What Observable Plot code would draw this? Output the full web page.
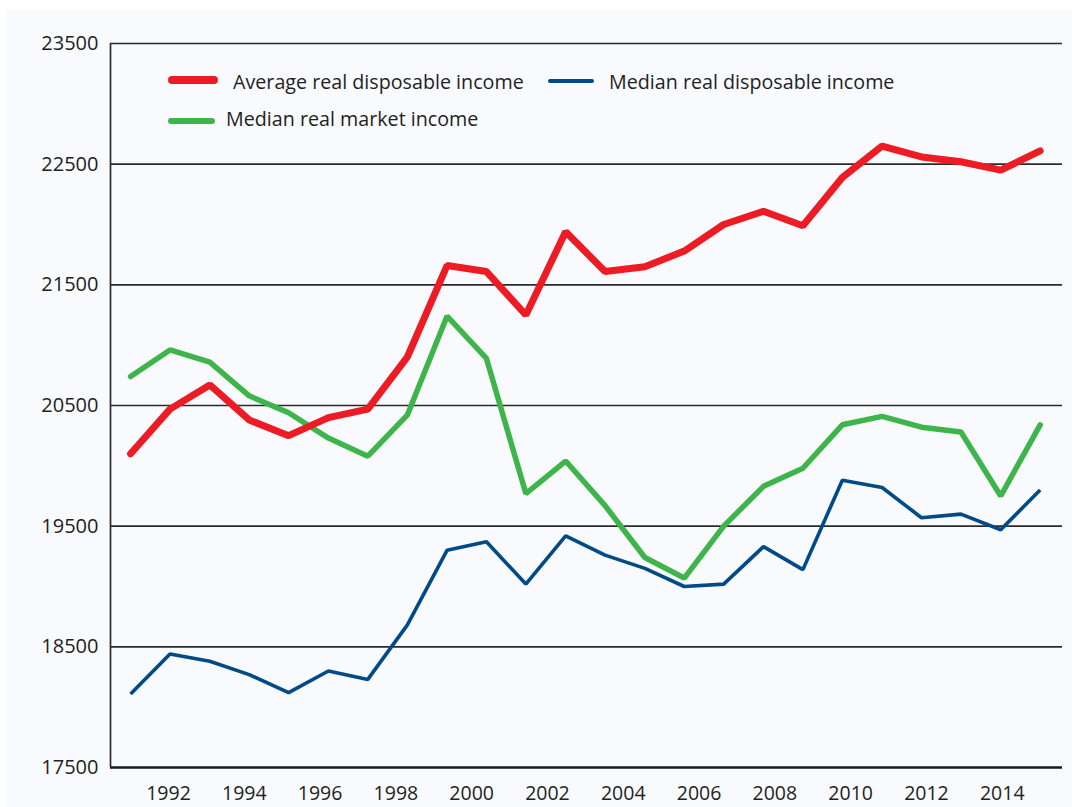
<!DOCTYPE html>
<html>
<head>
<meta charset="utf-8">
<script src="https://cdn.jsdelivr.net/npm/d3@7"></script>
<script src="https://cdn.jsdelivr.net/npm/@observablehq/plot@0.6"></script>
<style>
  html, body { margin: 0; padding: 0; background: #ffffff; }
  #wrap { position: relative; width: 1072px; height: 807px; overflow: hidden; font-family: "Open Sans", sans-serif; color: #231f20; }
  #panel { position: absolute; left: 7px; top: 10px; right: 0; bottom: 0; background: #f9fafd; }
  #chart { position: absolute; left: 0; top: 0; }
  .sw { position: absolute; border-radius: 4px; }
  .lt { position: absolute; font-size: 19.7px; line-height: 1; white-space: nowrap; color: #231f20; }
</style>
</head>
<body>
<div id="wrap">
  <div id="panel"></div>
  <div id="chart"></div>
  <div id="legend"></div>
</div>
<script>
const years = [1991.00, 1992.04, 1993.09, 1994.13, 1995.17, 1996.22, 1997.26, 1998.30, 1999.35, 2000.39, 2001.43, 2002.48,
               2003.52, 2004.57, 2005.61, 2006.65, 2007.70, 2008.74, 2009.78, 2010.83, 2011.87, 2012.91, 2013.96, 2015.00];

const avgDisposable = [20100, 20470, 20670, 20380, 20250, 20400, 20470, 20900, 21660, 21610, 21250, 21940,
                       21610, 21650, 21780, 22000, 22110, 21990, 22390, 22650, 22560, 22520, 22450, 22610];
const medDisposable = [18110, 18440, 18380, 18270, 18120, 18300, 18230, 18680, 19300, 19370, 19020, 19420,
                       19260, 19150, 19000, 19020, 19330, 19140, 19880, 19820, 19570, 19600, 19470, 19800];
const medMarket     = [20740, 20960, 20860, 20580, 20440, 20230, 20080, 20420, 21240, 20890, 19770, 20040,
                       19670, 19240, 19070, 19500, 19830, 19980, 20340, 20410, 20320, 20280, 19750, 20340];

const seriesNames = ["Average real disposable income", "Median real disposable income", "Median real market income"];
const seriesColors = ["#ed1c24", "#004b87", "#3db54a"];

const yTicks = [17500, 18500, 19500, 20500, 21500, 22500, 23500];
const xTicks = [1992, 1994, 1996, 1998, 2000, 2002, 2004, 2006, 2008, 2010, 2012, 2014];
const xDomain = [1990.47, 2015.59];
const yDomain = [17500, 23500];

const rows = (vals, name) => vals.map((v, i) => ({year: years[i], value: v, series: name}));
const redRows = rows(avgDisposable, seriesNames[0]);
const blueRows = rows(medDisposable, seriesNames[1]);
const greenRows = rows(medMarket, seriesNames[2]);

const chart = Plot.plot({
  width: 1072,
  height: 807,
  marginTop: 43,
  marginBottom: 40,
  marginLeft: 110,
  marginRight: 10,
  style: {background: "transparent", fontFamily: "'Open Sans', sans-serif", color: "#231f20", overflow: "visible"},
  x: {domain: xDomain},
  y: {domain: yDomain},
  marks: [
    Plot.ruleY(yTicks.slice(1), {stroke: "#2b2b2b", strokeWidth: 1.7}),
    Plot.ruleY([yDomain[0]], {stroke: "#1a1a1a", strokeWidth: 2.6}),
    Plot.ruleX([xDomain[0]], {stroke: "#2b2b2b", strokeWidth: 1.7}),
    Plot.axisY({ticks: yTicks, tickSize: 0, tickPadding: 12, fontSize: 20, tickFormat: d => String(d), label: null}),
    Plot.axisX({ticks: xTicks, tickSize: 0, tickPadding: 19, fontSize: 19.5, tickFormat: d => String(d), label: null}),
    Plot.line(greenRows, {x: "year", y: "value", stroke: seriesColors[2], strokeWidth: 5.5, strokeLinejoin: "miter", strokeLinecap: "round"}),
    Plot.line(blueRows, {x: "year", y: "value", stroke: seriesColors[1], strokeWidth: 3.6, strokeLinejoin: "miter", strokeLinecap: "butt"}),
    Plot.line(redRows, {x: "year", y: "value", stroke: seriesColors[0], strokeWidth: 7, strokeLinejoin: "miter", strokeLinecap: "round"})
  ]
});
document.getElementById("chart").appendChild(chart);

// Legend (HTML overlay inside the plot area)
const legendItems = [
  {name: seriesNames[0], color: seriesColors[0], sx: 168, sw: 50, sy: 80, sh: 7.5, tx: 233, ty: 72},
  {name: seriesNames[1], color: seriesColors[1], sx: 548, sw: 46, sy: 81, sh: 4.5, tx: 609, ty: 72},
  {name: seriesNames[2], color: seriesColors[2], sx: 168, sw: 47, sy: 121, sh: 6, tx: 226, ty: 109}
];
const leg = document.getElementById("legend");
for (const it of legendItems) {
  const s = document.createElement("div");
  s.className = "sw";
  s.style.left = it.sx + "px"; s.style.width = it.sw + "px";
  s.style.top = (it.sy - it.sh / 2) + "px"; s.style.height = it.sh + "px";
  s.style.background = it.color;
  leg.appendChild(s);
  const t = document.createElement("div");
  t.className = "lt";
  t.style.left = it.tx + "px"; t.style.top = it.ty + "px";
  t.textContent = it.name;
  leg.appendChild(t);
}
</script>
</body>
</html>
